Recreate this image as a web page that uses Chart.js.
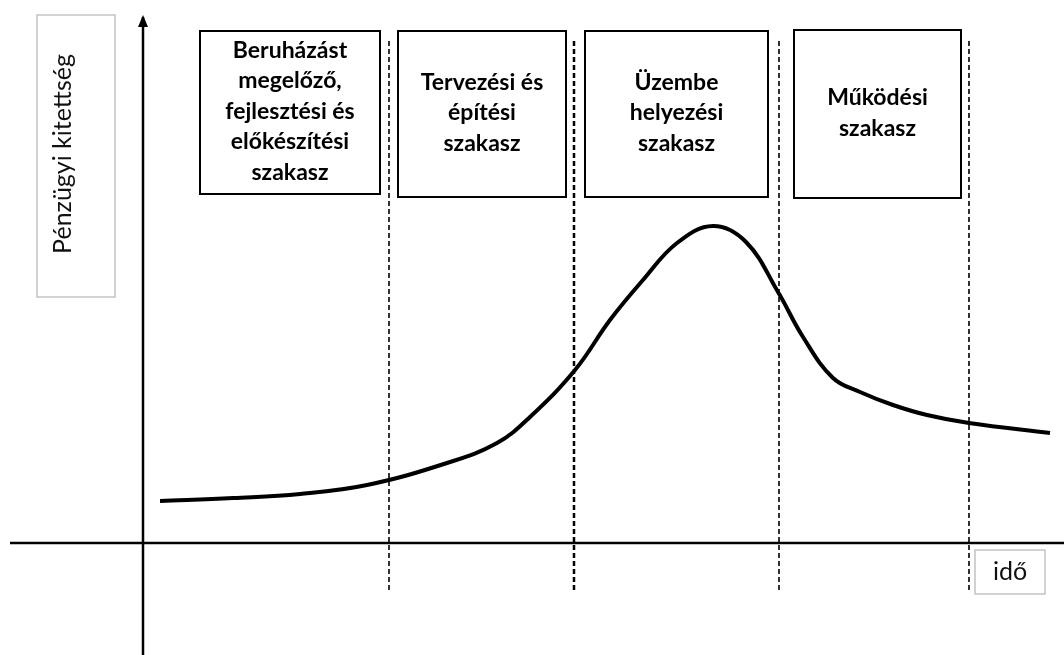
<!DOCTYPE html>
<html>
<head>
<meta charset="utf-8">
<script src="https://cdn.jsdelivr.net/npm/chart.js@4/dist/chart.umd.min.js"></script>
<style>
  body { margin: 0; background: #fff; }
  #wrap { width: 1064px; height: 655px; }
</style>
</head>
<body>
<div id="wrap"><canvas id="lifeCycleChart" width="1064" height="655"></canvas></div>
<script>
// Schematic: time (x) vs. financial exposure (y), origin at the axes crossing
const timePoints = [17, 90, 157, 224, 304, 354, 387, 432, 467, 500, 534, 570, 603, 635, 660, 690, 717, 750, 784, 826, 907];
const exposure   = [42, 45, 49, 58, 80, 100, 126, 173, 223, 263, 300, 317, 301, 251, 206, 165, 151, 138, 128, 120, 110];

// phase boundaries on the time axis (dashed lines)
const phaseBounds = [246, 431, 636, 826];
const dashTop = 505;
const dashBottom = -47;

const phaseLabels = [
    ['Beruházást', 'megelőző,', 'fejlesztési és', 'előkészítési', 'szakasz'],
    ['Tervezési és', 'építési', 'szakasz'],
    ['Üzembe', 'helyezési', 'szakasz'],
    ['Működési', 'szakasz']
];

const yAxisTitle = 'Pénzügyi kitettség';
const xAxisTitle = 'idő';

// visible extent of the two axes
const xAxisExtent = [-133, 921];
const yAxisExtent = [-112, 526];
const yArrowTip = 528;

// layout of the boxes (pixels)
const phaseBoxes = [
    { l: 200, t: 31, r: 380, b: 194 },
    { l: 398, t: 31, r: 566, b: 197 },
    { l: 585, t: 31, r: 768, b: 197 },
    { l: 794, t: 30, r: 961, b: 198 }
];
const yTitleBox = { l: 37, t: 15, r: 115, b: 297 };
const xTitleBox = { l: 975, t: 550, r: 1045, b: 594 };

const curveData = timePoints.map((t, i) => ({ x: t, y: exposure[i] }));

const dashedSets = phaseBounds.map((b, i) => ({
    data: [{ x: b, y: dashBottom }, { x: b, y: dashTop }],
    borderColor: '#000',
    borderWidth: i === 1 ? 2.5 : 1.6,
    borderDash: [5, 3],
    pointRadius: 0
}));

const boxesPlugin = {
    id: 'boxes',
    afterDatasetsDraw(chart) {
        const ctx = chart.ctx;
        const xs = chart.scales.x, ys = chart.scales.y;
        ctx.save();

        // arrow head on the vertical axis
        const ax = xs.getPixelForValue(0);
        const tip = ys.getPixelForValue(yArrowTip);
        ctx.fillStyle = '#000';
        ctx.beginPath();
        ctx.moveTo(ax, tip);
        ctx.lineTo(ax - 5, tip + 12);
        ctx.lineTo(ax + 5, tip + 12);
        ctx.closePath();
        ctx.fill();

        // phase boxes
        ctx.textAlign = 'center';
        ctx.textBaseline = 'middle';
        ctx.font = 'bold 23px Lato';
        phaseBoxes.forEach((bx, i) => {
            ctx.fillStyle = '#fff';
            ctx.fillRect(bx.l, bx.t, bx.r - bx.l, bx.b - bx.t);
            ctx.strokeStyle = '#000';
            ctx.lineWidth = 2;
            ctx.strokeRect(bx.l, bx.t, bx.r - bx.l, bx.b - bx.t);
            const lines = phaseLabels[i];
            const lh = 30.5;
            const cy = (bx.t + bx.b) / 2 - 1;
            const cx = (bx.l + bx.r) / 2;
            ctx.fillStyle = '#000';
            lines.forEach((txt, j) => {
                ctx.fillText(txt, cx, cy + (j - (lines.length - 1) / 2) * lh);
            });
        });

        // axis title boxes
        ctx.strokeStyle = '#c4c4c4';
        ctx.lineWidth = 1.5;
        ctx.strokeRect(yTitleBox.l, yTitleBox.t, yTitleBox.r - yTitleBox.l, yTitleBox.b - yTitleBox.t);
        ctx.strokeRect(xTitleBox.l, xTitleBox.t, xTitleBox.r - xTitleBox.l, xTitleBox.b - xTitleBox.t);

        ctx.fillStyle = '#111';
        ctx.font = '25px Lato';
        ctx.fillText(xAxisTitle, (xTitleBox.l + xTitleBox.r) / 2, (xTitleBox.t + xTitleBox.b) / 2);

        ctx.translate(63, (yTitleBox.t + yTitleBox.b) / 2 - 2);
        ctx.rotate(-Math.PI / 2);
        ctx.fillText(yAxisTitle, 0, 0);
        ctx.restore();
    }
};

new Chart(document.getElementById('lifeCycleChart'), {
    type: 'line',
    data: {
        datasets: [
            {
                data: curveData,
                borderColor: '#000',
                borderWidth: 4,
                pointRadius: 0,
                tension: 0.4
            },
            {
                data: [{ x: xAxisExtent[0], y: 0 }, { x: xAxisExtent[1], y: 0 }],
                borderColor: '#000',
                borderWidth: 2.5,
                pointRadius: 0
            },
            {
                data: [{ x: 0, y: yAxisExtent[0] }, { x: 0, y: yAxisExtent[1] }],
                borderColor: '#000',
                borderWidth: 2.5,
                pointRadius: 0
            },
            ...dashedSets
        ]
    },
    options: {
        responsive: false,
        animation: false,
        layout: { padding: 0 },
        scales: {
            x: { type: 'linear', min: -143, max: 921, display: false },
            y: { type: 'linear', min: -112, max: 543, display: false }
        },
        plugins: {
            legend: { display: false },
            tooltip: { enabled: false }
        }
    },
    plugins: [boxesPlugin]
});
</script>
</body>
</html>
